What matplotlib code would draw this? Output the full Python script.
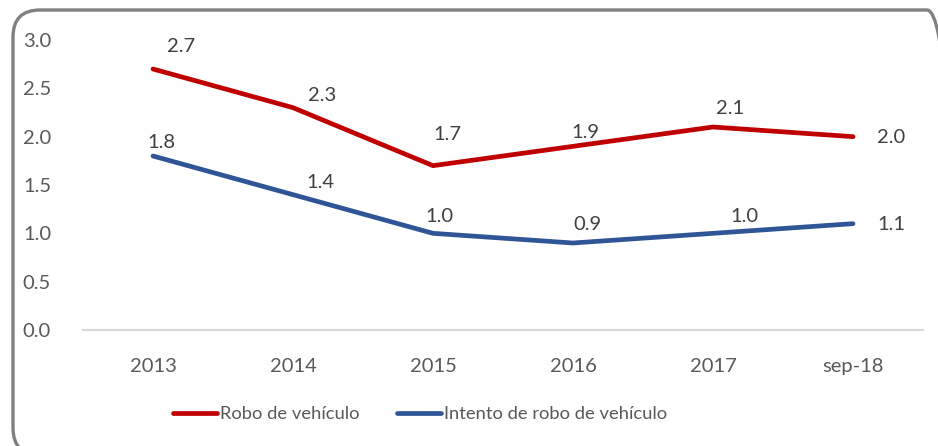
import matplotlib
matplotlib.use("Agg")
import matplotlib.pyplot as plt
from matplotlib.patches import FancyBboxPatch
from matplotlib.transforms import IdentityTransform

categories = ["2013", "2014", "2015", "2016", "2017", "sep-18"]
robo = [2.7, 2.3, 1.7, 1.9, 2.1, 2.0]
intento = [1.8, 1.4, 1.0, 0.9, 1.0, 1.1]
yticks = [0.0, 0.5, 1.0, 1.5, 2.0, 2.5, 3.0]

# label offsets in pixels (dx, dy)
robo_off = [(28, 22), (29, 12), (14, 31), (12, 14), (17, 19), (38, -1)]
int_off = [(8, 13), (27, 12), (6, 17), (14, 18), (31, 17), (38, -1)]

RED = "#C00000"
BLUE = "#2F5597"
TXT = "#404040"
TICK = "#595959"
FONT = "Lato"
FS = 14.5

W, H = 938, 446
fig = plt.figure(figsize=(W / 100, H / 100), dpi=100)
fig.patch.set_facecolor("white")

# rounded border (partly cropped at right and bottom), in pixels
border = FancyBboxPatch((13, -9), 941, 445,
                        boxstyle="round,pad=0,rounding_size=27",
                        transform=IdentityTransform(), fill=False,
                        edgecolor="#808080", linewidth=2.4)
fig.patches.append(border)

ax = fig.add_axes([83 / W, (H - 330) / H, (923 - 83) / W, (330 - 40) / H])
x = list(range(len(categories)))
l1, = ax.plot(x, robo, color=RED, linewidth=3.4, solid_capstyle="round",
              label="Robo de vehículo", zorder=3)
l2, = ax.plot(x, intento, color=BLUE, linewidth=3.4, solid_capstyle="round",
              label="Intento de robo de vehículo", zorder=3)

for xi, v, (dx, dy) in zip(x, robo, robo_off):
    ax.annotate(f"{v:.1f}", (xi, v), xytext=(dx, dy), textcoords="offset pixels",
                ha="center", va="center", fontsize=FS, color=TXT, family=FONT)
for xi, v, (dx, dy) in zip(x, intento, int_off):
    ax.annotate(f"{v:.1f}", (xi, v), xytext=(dx, dy), textcoords="offset pixels",
                ha="center", va="center", fontsize=FS, color=TXT, family=FONT)

ax.set_xlim(-0.5, len(categories) - 0.5)
ax.set_ylim(0, 3.0)
ax.set_xticks(x)
ax.set_xticklabels(categories)
ax.set_yticks(yticks)
ax.set_yticklabels([f"{t:.1f}" for t in yticks])
for s in ["top", "right", "left"]:
    ax.spines[s].set_visible(False)
ax.spines["bottom"].set_color("#D9D9D9")
ax.spines["bottom"].set_linewidth(1.5)
ax.tick_params(axis="both", length=0, labelsize=FS, labelcolor=TICK)
ax.tick_params(axis="x", pad=20)
ax.tick_params(axis="y", pad=23)
for lab in ax.get_xticklabels() + ax.get_yticklabels():
    lab.set_family(FONT)

leg = fig.legend(handles=[l1, l2], loc="center",
                 bbox_to_anchor=((179 + 661) / 2 / W, (H - 414) / H),
                 ncol=2, frameon=False, handlelength=2.4, handletextpad=0.2,
                 columnspacing=2.0, prop={"family": FONT, "size": 13.2})
for t in leg.get_texts():
    t.set_color(TICK)

fig.savefig("out.png", dpi=100)
